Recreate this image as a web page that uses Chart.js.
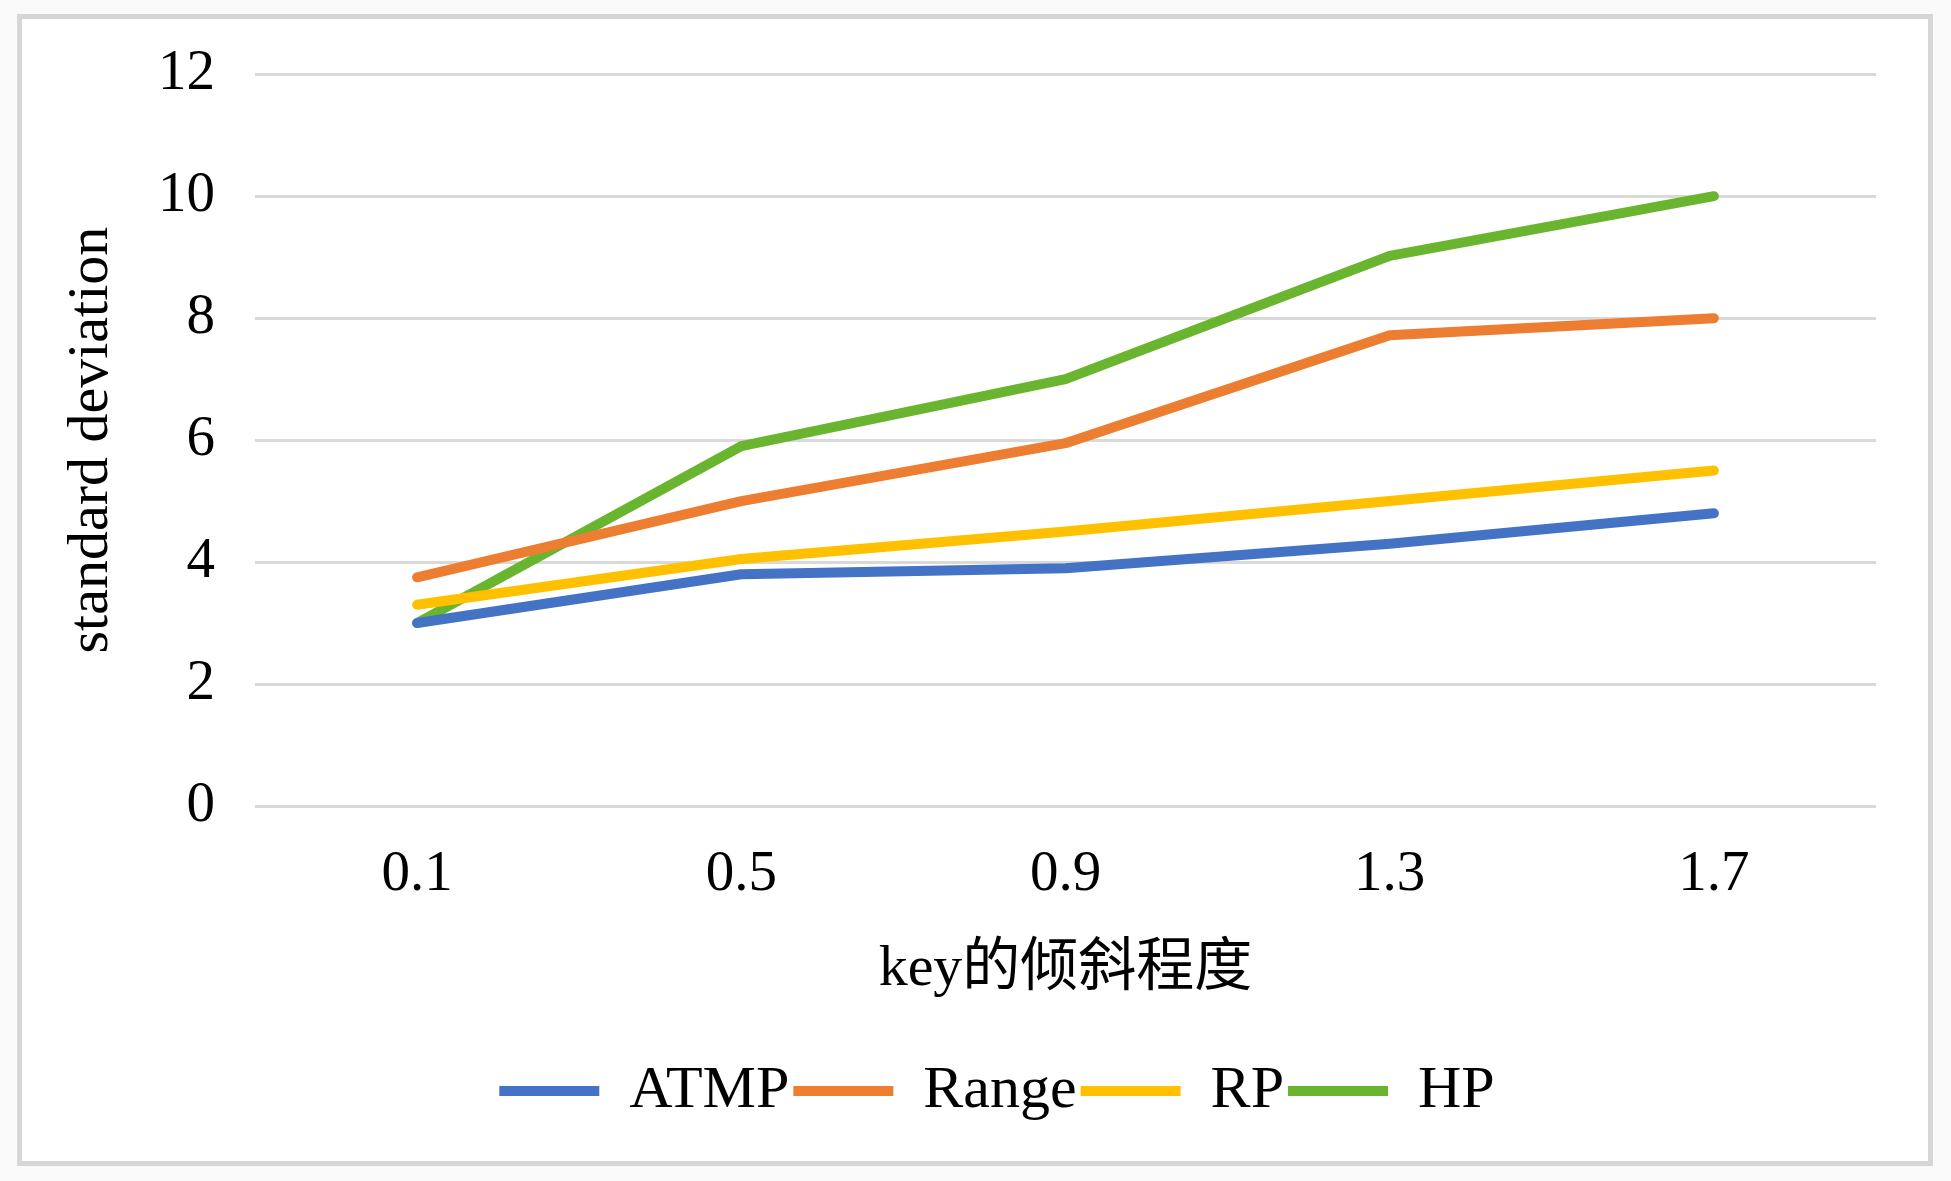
<!DOCTYPE html>
<html>
<head>
<meta charset="utf-8">
<script src="https://cdn.jsdelivr.net/npm/chart.js@4/dist/chart.umd.min.js"></script>
<style>
  html, body { margin: 0; padding: 0; background: #fafafa; }
  #frame { position: absolute; left: 17px; top: 14px; width: 1906px; height: 1142px;
           border: 5px solid #d6d6d6; background: #fff; }
  #wrap { position: absolute; left: 0; top: 0; width: 1951px; height: 1181px; }
</style>
</head>
<body>
<div id="frame"></div>
<div id="wrap"><canvas id="chart" width="1951" height="1181"></canvas></div>
<script>
// skew of key (x) vs standard deviation
const categories = ['0.1', '0.5', '0.9', '1.3', '1.7'];
const atmp  = [3.0, 3.8, 3.9, 4.3, 4.8];
const range = [3.75, 5.0, 5.95, 7.72, 8.0];
const rp    = [3.3, 4.05, 4.5, 5.0, 5.5];
const hp    = [3.0, 5.9, 7.0, 9.02, 10.0];
const yTicks = { min: 0, max: 12, step: 2 };

const serif = '"Liberation Serif", "Times New Roman", "Noto Sans CJK SC", serif';

function line(label, data, color) {
  return {
    label, data,
    borderColor: color, backgroundColor: color,
    borderWidth: 10, borderCapStyle: 'round', borderJoinStyle: 'round',
    pointRadius: 0, pointHoverRadius: 0, pointStyle: 'line',
    tension: 0, fill: false
  };
}

new Chart(document.getElementById('chart').getContext('2d'), {
  type: 'line',
  data: {
    labels: categories,
    datasets: [
      line('ATMP', atmp, '#4472C4'),
      line('Range', range, '#ED7D31'),
      line('RP', rp, '#FFC000'),
      line('HP', hp, '#6AB52F')
    ]
  },
  options: {
    responsive: false, animation: false,
    // extra left padding pushes the centred legend right, like the original
    layout: { padding: { top: 73, right: 75, bottom: 50, left: 118 } },
    scales: {
      x: {
        offset: true,
        grid: { display: false },
        border: { display: false },
        ticks: { color: '#000', font: { family: serif, size: 57 }, padding: 27 },
        title: { display: true, text: 'key的倾斜程度', color: '#000',
                 font: { family: serif, size: 58 }, padding: { top: 0, bottom: 52 } },
        afterFit: s => { s.height = 251; }
      },
      y: {
        min: yTicks.min, max: yTicks.max,
        grid: { color: '#d9d9d9', lineWidth: 3, drawTicks: false },
        border: { display: false },
        ticks: { stepSize: yTicks.step, color: '#000', font: { family: serif, size: 57 }, padding: 40 },
        title: { display: true, text: 'standard deviation', color: '#000',
                 font: { family: serif, size: 58 }, padding: { top: -61, bottom: 0 } },
        afterFit: s => { s.width = 137; }
      }
    },
    plugins: {
      tooltip: { enabled: false },
      legend: {
        position: 'bottom',
        labels: {
          usePointStyle: true, pointStyleWidth: 100, padding: 4,
          color: '#000', font: { family: serif, size: 60 }
        }
      }
    }
  }
});
</script>
</body>
</html>
